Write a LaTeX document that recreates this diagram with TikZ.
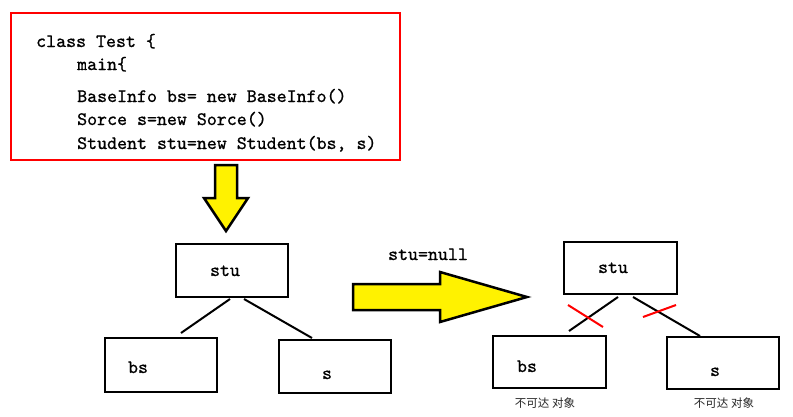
\documentclass[tikz,border=0pt]{standalone}
\usepackage{fontspec}
\setmonofont[FakeBold=0.8]{lmmono10-regular.otf}
\newfontfamily\cjk{Noto Sans CJK SC}
\usetikzlibrary{calc}
\begin{document}
\begin{tikzpicture}[x=1pt,y=-1pt,
  code/.style={anchor=base west,inner sep=0pt,font=\ttfamily\fontsize{19}{21}\selectfont},
  boxtxt/.style={anchor=base,inner sep=0pt,font=\ttfamily\fontsize{19}{21}\selectfont},
  objbox/.style={draw=black,line width=2pt,rectangle,inner sep=0pt},
  link/.style={draw=black,line width=2pt},
  cross/.style={draw=red,line width=2pt},
  bigarrow/.style={draw=black,fill=yellow,line width=2.5pt,line join=miter},
  note/.style={inner sep=0pt,font=\cjk\fontsize{11.5}{13}\selectfont,text=black!85}]
\useasboundingbox (0,0) rectangle (793,416);
\fill[white] (0,0) rectangle (793,416);
% code box
\node[draw=red,line width=2pt,rectangle,inner sep=0pt,minimum width=389pt,minimum height=147pt] (codebox) at (205.5,86.5) {};
\node[code] (l1) at (36,47) {class Test \{};
\node[code] (l2) at (77,70) {main\{};
\node[code] (l3) at (77,102) {BaseInfo bs= new BaseInfo()};
\node[code] (l4) at (77,125) {Sorce s=new Sorce()};
\node[code] (l5) at (77,149) {Student stu=new Student(bs, s)};
% down arrow
\draw[bigarrow] (215,165) -- (237,165) -- (237,198) -- (248,198) -- (226,231) -- (204,198) -- (215,198) -- cycle;
% left tree
\node[objbox,minimum width=112pt,minimum height=53pt] (stu) at (232,270.5) {};
\node[objbox,minimum width=112pt,minimum height=54pt] (bs) at (161,365) {};
\node[objbox,minimum width=112pt,minimum height=53pt] (s) at (335,366.5) {};
\node[boxtxt] (stut) at (225,276) {stu};
\node[boxtxt] (bst) at (138,373) {bs};
\node[boxtxt] (st) at (327,379) {s};
\draw[link] ($(stu.south)+(-2,1)$) -- ($(bs.north)+(20,-4)$);
\draw[link] ($(stu.south)+(12,1)$) -- ($(s.north)+(-23,-1)$);
% right arrow
\node[boxtxt] (nul) at (428,260) {stu=null};
\draw[bigarrow] (353,284) -- (440,284) -- (440,272) -- (527,297) -- (440,322) -- (440,310) -- (353,310) -- cycle;
% right tree
\node[objbox,minimum width=113pt,minimum height=52pt] (stu2) at (620.5,268) {};
\node[objbox,minimum width=113pt,minimum height=52pt] (bs2) at (549.5,362) {};
\node[objbox,minimum width=112pt,minimum height=52pt] (s2) at (723,363) {};
\node[boxtxt] (stut2) at (613,273) {stu};
\node[boxtxt] (bst2) at (527,372) {bs};
\node[boxtxt] (st2) at (715,376) {s};
\draw[link] ($(stu2.south)+(-2.5,2)$) -- ($(bs2.north)+(19.5,-4)$);
\draw[link] ($(stu2.south)+(12.5,2)$) -- ($(s2.north)+(-23,0)$);
\draw[cross] (568,305) -- (603,327);
\draw[cross] (643,317) -- (676,305);
\node[note] (n1) at (545,403) {不可达\hspace{3pt}对象};
\node[note] (n2) at (724,403) {不可达\hspace{3pt}对象};
\end{tikzpicture}
\end{document}
